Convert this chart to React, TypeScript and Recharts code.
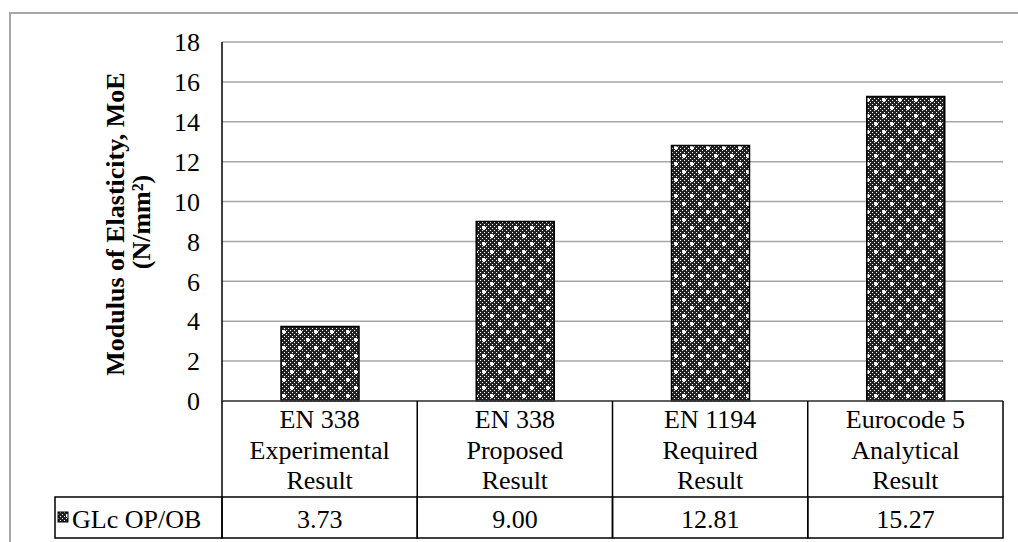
import { BarChart, Bar, XAxis, YAxis, CartesianGrid } from "recharts";

const categories = [
  "EN 338 Experimental Result",
  "EN 338 Proposed Result",
  "EN 1194 Required Result",
  "Eurocode 5 Analytical Result",
];
const categoryLines = [
  ["EN 338", "Experimental", "Result"],
  ["EN 338", "Proposed", "Result"],
  ["EN 1194", "Required", "Result"],
  ["Eurocode 5", "Analytical", "Result"],
];
const values = [3.73, 9.0, 12.81, 15.27];
const yTicks = [0, 2, 4, 6, 8, 10, 12, 14, 16, 18];
const seriesName = "GLc OP/OB";
const yLabel = ["Modulus of Elasticity, MoE", "(N/mm²)"];

const data = categories.map((name, i) => ({ name, value: values[i] }));

const W = 1018;
const H = 542;
const MARGIN = { top: 42, right: 15, bottom: 4, left: 0 };
const Y_AXIS_W = 222;
const PLOT_W = W - MARGIN.left - MARGIN.right - Y_AXIS_W;
const BAND = PLOT_W / categories.length;
const CAT_ROW_H = 96;
const VAL_ROW_H = 41;
const FONT = "Liberation Serif, Times New Roman, DejaVu Serif, serif";
const txt = { fontFamily: FONT };

// 16x16 tile: dark checker with white plus marks
function DotsPattern() {
  const dots = [];
  for (let i = 0; i < 8; i++) {
    for (let j = 0; j < 8; j++) {
      if ((i + j) % 2 === 0) {
        dots.push(<rect key={`${i}-${j}`} x={i * 2} y={j * 2} width={1} height={1} fill="#fff" />);
      }
    }
  }
  const plus = (cx: number, cy: number) => (
    <g key={`p${cx}`} fill="#fff">
      <rect x={cx - 2} y={cy - 1} width={4} height={2} />
      <rect x={cx - 1} y={cy - 2} width={2} height={4} />
    </g>
  );
  return (
    <svg width={0} height={0} style={{ position: "absolute" }}>
      <defs>
        <pattern id="dots" x={0} y={0} width={16} height={16} patternUnits="userSpaceOnUse">
          <rect width={16} height={16} fill="#222" />
          {dots}
          {plus(4, 4)}
          {plus(12, 12)}
        </pattern>
      </defs>
    </svg>
  );
}

function CategoryTick(props: any) {
  const { x, y, index } = props;
  const left = x - BAND / 2;
  const right = x + BAND / 2;
  const lines = categoryLines[index] || [];
  return (
    <g>
      {index === 0 && (
        <line x1={left} y1={y} x2={left} y2={y + CAT_ROW_H} stroke="#000" strokeWidth={1.5} />
      )}
      <line x1={right} y1={y} x2={right} y2={y + CAT_ROW_H} stroke="#000" strokeWidth={1.5} />
      {lines.map((t, i) => (
        <text
          key={i}
          x={x}
          y={y + 27 + i * 30.5}
          textAnchor="middle"
          style={txt}
          fontSize={26}
          fill="#000"
        >
          {t}
        </text>
      ))}
    </g>
  );
}

function ValueTick(props: any) {
  const { x, y, index } = props;
  const left = x - BAND / 2;
  const v = values[index];
  return (
    <g>
      {index === 0 && (
        <g>
          <rect x={55} y={y} width={left - 55} height={VAL_ROW_H} fill="none" stroke="#000" strokeWidth={1.5} />
          <rect x={58} y={y + 15} width={10} height={10} fill="url(#dots)" stroke="#000" strokeWidth={1} />
          <text x={72} y={y + 31} style={txt} fontSize={26} fill="#000">
            {seriesName}
          </text>
        </g>
      )}
      <rect x={left} y={y} width={BAND} height={VAL_ROW_H} fill="none" stroke="#000" strokeWidth={1.5} />
      <text x={x} y={y + 31} textAnchor="middle" style={txt} fontSize={26} fill="#000">
        {v !== undefined ? v.toFixed(2) : ""}
      </text>
    </g>
  );
}

function YLabel() {
  return (
    <g style={txt} fontSize={26} fontWeight="bold" fill="#000">
      <text transform="translate(124,224) rotate(-90)" textAnchor="middle">
        {yLabel[0]}
      </text>
      <text transform="translate(150,222) rotate(-90)" textAnchor="middle">
        {yLabel[1]}
      </text>
    </g>
  );
}

export default function App() {
  return (
    <div
      style={{
        position: "absolute",
        left: 0,
        top: 0,
        width: W,
        height: H,
        overflow: "hidden",
        background: "#fff",
        fontFamily: FONT,
      }}
    >
      <div
        style={{
          position: "absolute",
          left: 9,
          top: 12,
          width: 1200,
          height: 800,
          border: "2px solid #a6a6a6",
        }}
      />
      <DotsPattern />
      <div style={{ position: "absolute", left: 0, top: 0 }}>
        <BarChart width={W} height={H} data={data} margin={MARGIN}>
          <CartesianGrid vertical={false} stroke="#a6a6a6" strokeWidth={1.5} />
          <YAxis
            type="number"
            domain={[0, 18]}
            ticks={yTicks}
            width={Y_AXIS_W}
            axisLine={{ stroke: "#000", strokeWidth: 1.5 }}
            tickLine={false}
            tickMargin={16}
            tick={{ fontFamily: FONT, fontSize: 26, fill: "#000", style: txt }}
            label={{ content: () => <YLabel /> }}
          />
          <XAxis
            dataKey="name"
            height={CAT_ROW_H}
            axisLine={{ stroke: "#404040", strokeWidth: 1.5 }}
            tickLine={false}
            tickSize={0}
            tickMargin={0}
            interval={0}
            tick={<CategoryTick />}
          />
          <XAxis
            xAxisId="val"
            dataKey="name"
            height={VAL_ROW_H}
            axisLine={false}
            tickLine={false}
            tickSize={0}
            tickMargin={0}
            interval={0}
            tick={<ValueTick />}
          />
          <Bar
            dataKey="value"
            name={seriesName}
            fill="url(#dots)"
            stroke="#000"
            strokeWidth={1.5}
            barSize={78}
            isAnimationActive={false}
          />
        </BarChart>
      </div>
    </div>
  );
}
